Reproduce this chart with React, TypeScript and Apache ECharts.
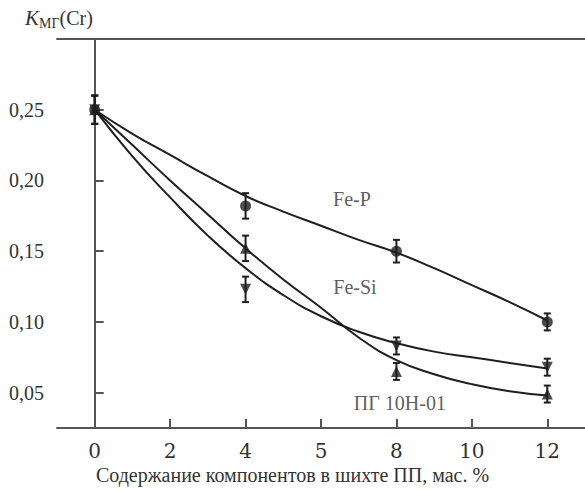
import React, { useEffect, useRef } from "react";
import * as echarts from "echarts";

const tickValues = [0, 2, 4, 6, 8, 10, 12];
const tickLabels = ["0", "2", "4", "5", "8", "10", "12"];
const yTickValues = [0.05, 0.1, 0.15, 0.2, 0.25];

const pointX = [0, 4, 8, 12];
const feP = [0.25, 0.182, 0.15, 0.1];
const feSi = [0.25, 0.123, 0.083, 0.068];
const pg = [0.25, 0.152, 0.065, 0.049];
const fePErr = [0.01, 0.009, 0.008, 0.006];
const feSiErr = [0.01, 0.009, 0.006, 0.006];
const pgErr = [0.01, 0.009, 0.006, 0.006];

const fitX = [0, 1, 2, 3, 4, 5, 6, 7, 8, 9, 10, 11, 12];
const fePFit = [0.25, 0.233, 0.218, 0.203, 0.189, 0.178, 0.168, 0.158, 0.149, 0.138, 0.126, 0.114, 0.101];
const feSiFit = [0.25, 0.217, 0.188, 0.161, 0.138, 0.119, 0.104, 0.093, 0.085, 0.079, 0.075, 0.071, 0.067];
const pgFit = [0.25, 0.225, 0.2, 0.176, 0.152, 0.13, 0.11, 0.089, 0.073, 0.063, 0.056, 0.051, 0.048];

const curveLabels = ["Fe-P", "Fe-Si", "ПГ 10Н-01"];
const curveLabelX = [6.82, 6.9, 8.09];
const curveLabelY = [0.187, 0.125, 0.043];

const FONT = "Liberation Serif";
const FONT2 = "DejaVu Serif";
const INK = "#1e1e1e";
const AXIS = "#555555";
const TEXT = "#333333";

function zip(xs: number[], ys: number[]) {
  return xs.map((x, i) => [x, ys[i]]);
}

function errData(ys: number[], es: number[]) {
  return pointX.map((x, i) => [x, ys[i] - es[i], ys[i] + es[i]]);
}

const errRender = (params: any, api: any) => {
  const x = api.value(0);
  const lo = api.coord([x, api.value(1)]);
  const hi = api.coord([x, api.value(2)]);
  const cap = 3.5;
  const style = { stroke: INK, lineWidth: 2 };
  return {
    type: "group",
    children: [
      { type: "line", shape: { x1: lo[0], y1: lo[1], x2: hi[0], y2: hi[1] }, style },
      { type: "line", shape: { x1: lo[0] - cap, y1: lo[1], x2: lo[0] + cap, y2: lo[1] }, style },
      { type: "line", shape: { x1: hi[0] - cap, y1: hi[1], x2: hi[0] + cap, y2: hi[1] }, style },
    ],
  };
};

export default function App() {
  const ref = useRef<HTMLDivElement>(null);
  useEffect(() => {
    if (!ref.current) return;
    const chart = echarts.init(ref.current, null, { renderer: "svg" });
    const lineSeries = (data: number[]) => ({
      type: "line",
      data: zip(fitX, data),
      smooth: true,
      showSymbol: false,
      symbol: "none",
      lineStyle: { color: INK, width: 2 },
      z: 2,
    });
    const scatter = (data: number[], symbol: string) => ({
      type: "scatter",
      data: zip(pointX, data),
      symbol,
      symbolSize: 11,
      itemStyle: { color: INK },
      z: 4,
    });
    const err = (ys: number[], es: number[]) => ({
      type: "custom",
      data: errData(ys, es),
      renderItem: errRender,
      encode: { x: 0, y: [1, 2] },
      z: 3,
    });
    chart.setOption({
      animation: false,
      grid: { left: 57, right: 0, top: 39, bottom: 62, containLabel: false },
      xAxis: [
        {
          type: "value",
          min: -1,
          max: 13,
          axisLine: { show: true, lineStyle: { color: AXIS, width: 2 } },
          axisTick: { show: true, inside: true, length: 9, customValues: tickValues, lineStyle: { color: AXIS, width: 2 } },
          axisLabel: {
            customValues: tickValues,
            margin: 13,
            fontFamily: FONT2,
            fontSize: 20,
            color: TEXT,
            formatter: (v: number) => tickLabels[tickValues.indexOf(v)] ?? "",
          },
          splitLine: { show: false },
        },
        {
          type: "value",
          position: "top",
          min: -1,
          max: 13,
          axisLine: { show: true, lineStyle: { color: AXIS, width: 2 } },
          axisTick: { show: false },
          axisLabel: { show: false },
          splitLine: { show: false },
        },
      ],
      yAxis: {
        type: "value",
        min: 0.025,
        max: 0.3,
        axisLine: { show: true, lineStyle: { color: AXIS, width: 2 } },
        axisTick: { show: true, inside: true, length: 9, customValues: yTickValues, lineStyle: { color: AXIS, width: 2 } },
        axisLabel: {
          customValues: yTickValues,
          margin: 13,
          fontFamily: "serif",
          fontSize: 20,
          color: TEXT,
          formatter: (v: number) => v.toFixed(2).replace(".", ","),
        },
        splitLine: { show: false },
      },
      graphic: [
        {
          type: "text",
          left: "center",
          top: 465,
          style: {
            text: "Содержание компонентов в шихте ПП, мас. %",
            fontFamily: FONT,
            fontSize: 20,
            fill: TEXT,
          },
        },
        {
          type: "text",
          x: 25,
          y: 6,
          style: {
            text: "{k|K}{s|МГ}{n|(Cr)}",
            fill: TEXT,
            rich: {
              k: { fontFamily: FONT, fontSize: 21, fontStyle: "italic", fill: TEXT },
              s: { fontFamily: FONT, fontSize: 14, fill: TEXT, padding: [10, 0, 0, 0] },
              n: { fontFamily: FONT, fontSize: 20, fill: TEXT },
            },
          },
        },
      ],
      series: [
        lineSeries(fePFit),
        lineSeries(feSiFit),
        lineSeries(pgFit),
        err(feP, fePErr),
        err(feSi, feSiErr),
        err(pg, pgErr),
        scatter(feP, "circle"),
        scatter(feSi, "path://M0,0 L10,0 L5,10 Z"),
        scatter(pg, "triangle"),
        {
          type: "scatter",
          data: curveLabels.map((t, i) => ({ value: [curveLabelX[i], curveLabelY[i]], name: t })),
          symbolSize: 0,
          silent: true,
          label: {
            show: true,
            position: "inside",
            formatter: (p: any) => p.name,
            fontFamily: "Times New Roman",
            fontSize: 20,
            color: TEXT,
          },
          z: 5,
        },
      ],
    });
    return () => chart.dispose();
  }, []);
  return (
    <div
      ref={ref}
      style={{ position: "fixed", left: 0, top: 0, width: 585, height: 490, background: "#fff" }}
    />
  );
}
